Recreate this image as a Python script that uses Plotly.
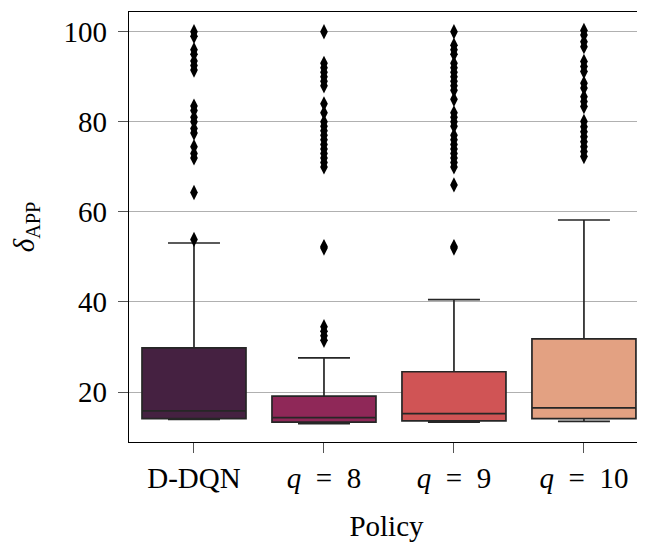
import plotly.graph_objects as go

categories = ["D-DQN", "<i>q</i>\u2002=\u20028", "<i>q</i>\u2002=\u20029", "<i>q</i>\u2002=\u200210"]
q1 = [14.1, 13.3, 13.6, 14.1]
median = [15.8, 14.3, 15.2, 16.5]
q3 = [29.8, 19.1, 24.5, 31.8]
lowerfence = [13.9, 13.0, 13.3, 13.5]
upperfence = [53.1, 27.6, 40.5, 58.2]
outliers_ddqn = [100, 99, 96, 95, 93.5, 92.5, 91.5, 83.5, 82.5, 81, 80, 78.5, 77.5,
                 74.5, 73, 72, 64.3, 53.9]
outliers_q8 = [100, 93, 92, 91, 90, 89, 88, 84, 82, 80, 79, 78, 77, 76, 75, 74, 73,
               72, 71, 70, 52.3, 52, 34.5, 33.5, 32.5, 31.5]
outliers_q9 = [100, 97, 96, 95, 93, 92, 91, 90, 89, 88, 87, 85, 82, 81, 80, 79, 77,
               76, 75, 74, 73, 72, 71, 70, 66, 52.3, 52]
outliers_q10 = [100.3, 99.3, 97.8, 96.7, 93.4, 92.3, 91.2, 88.6, 87.5, 85.6, 84.5,
                83.4, 80.1, 78.9, 77.8, 76.7, 75.6, 74.5, 73.4, 72.3]
outliers = [outliers_ddqn, outliers_q8, outliers_q9, outliers_q10]
colors = ["#452141", "#8F2858", "#D05455", "#E3A182"]
ytickvals = [20, 40, 60, 80, 100]

FONT = "Liberation Serif, DejaVu Serif, serif"
fig = go.Figure()
for i, cat in enumerate(categories):
    fig.add_trace(go.Box(
        x=[cat], q1=[q1[i]], median=[median[i]], q3=[q3[i]],
        lowerfence=[lowerfence[i]], upperfence=[upperfence[i]],
        fillcolor=colors[i], line=dict(color="#262626", width=1.7),
        width=0.8, whiskerwidth=0.5, boxpoints=False, showlegend=False,
    ))
    fig.add_trace(go.Scatter(
        x=[cat] * len(outliers[i]), y=outliers[i], mode="markers",
        marker=dict(symbol="diamond-tall", size=11, color="black"),
        showlegend=False,
    ))

fig.update_layout(
    width=637, height=535,
    margin=dict(l=121, r=1, t=4, b=101),
    paper_bgcolor="white", plot_bgcolor="white",
    font=dict(family=FONT, size=29, color="black"),
    showlegend=False,
)
fig.update_xaxes(
    type="category", range=[-0.5, 3.462], automargin=False,
    showline=True, linecolor="black", linewidth=1.3, mirror=True,
    ticks="outside", ticklen=10, tickcolor="#555", tickwidth=1.2,
    showgrid=False,
    title=dict(text="Policy", font=dict(family=FONT, size=29), standoff=22),
)
fig.update_yaxes(
    range=[8.9, 104.4], tickvals=ytickvals, automargin=False,
    showline=True, linecolor="black", linewidth=1.3, mirror=True,
    ticks="outside", ticklen=10, tickcolor="#555", tickwidth=1.2,
    ticklabelstandoff=5,
    showgrid=True, gridcolor="#b0b0b0", gridwidth=1, zeroline=False,
    title=dict(text="<i>δ</i><sub>APP</sub>", font=dict(family=FONT, size=29), standoff=20),
)
fig.write_html("out.html")
